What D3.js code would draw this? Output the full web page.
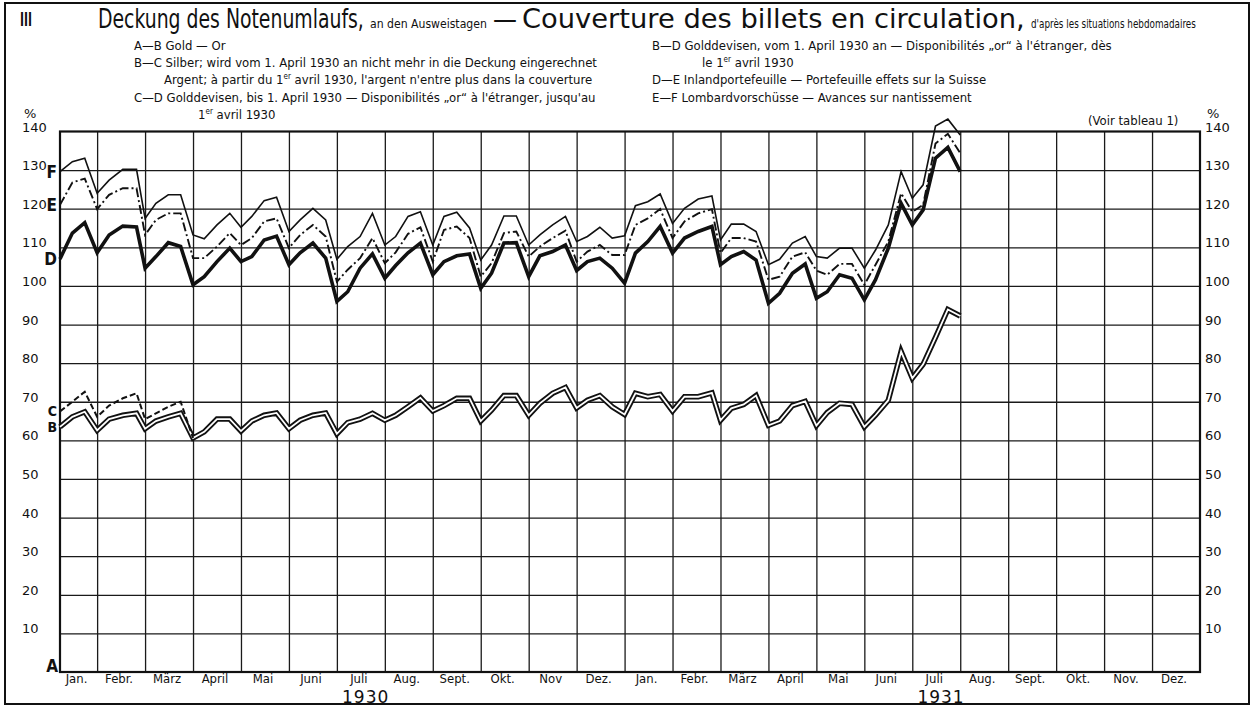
<!DOCTYPE html>
<html>
<head>
<meta charset="utf-8">
<script src="https://cdn.jsdelivr.net/npm/d3@7"></script>
<style>
body { margin: 0; background: #fff; }
svg { display: block; }
</style>
</head>
<body>
<div id="canvas"></div>
<script>
const W = 1253
const H = 706

// Ausweistage: 7., 15., 23. und Monatsende
const dates = [
	'1930-01-07', '1930-01-15', '1930-01-23', '1930-01-31',
	'1930-02-07', '1930-02-15', '1930-02-23', '1930-02-28',
	'1930-03-07', '1930-03-15', '1930-03-23', '1930-03-31',
	'1930-04-07', '1930-04-15', '1930-04-23', '1930-04-30',
	'1930-05-07', '1930-05-15', '1930-05-23', '1930-05-31',
	'1930-06-07', '1930-06-15', '1930-06-23', '1930-06-30',
	'1930-07-07', '1930-07-15', '1930-07-23', '1930-07-31',
	'1930-08-07', '1930-08-15', '1930-08-23', '1930-08-31',
	'1930-09-07', '1930-09-15', '1930-09-23', '1930-09-30',
	'1930-10-07', '1930-10-15', '1930-10-23', '1930-10-31',
	'1930-11-07', '1930-11-15', '1930-11-23', '1930-11-30',
	'1930-12-07', '1930-12-15', '1930-12-23', '1930-12-31',
	'1931-01-07', '1931-01-15', '1931-01-23', '1931-01-31',
	'1931-02-07', '1931-02-15', '1931-02-23', '1931-02-28',
	'1931-03-07', '1931-03-15', '1931-03-23', '1931-03-31',
	'1931-04-07', '1931-04-15', '1931-04-23', '1931-04-30',
	'1931-05-07', '1931-05-15', '1931-05-23', '1931-05-31',
	'1931-06-07', '1931-06-15', '1931-06-23', '1931-06-30',
	'1931-07-07', '1931-07-15', '1931-07-23', '1931-07-31'
]

// B: Gold (A-B)
const goldB = [
	63.5, 66.1, 67.4, 62.6,  65.5, 66.5, 67.0, 63.0,  65.0, 66.1, 67.0, 60.6,
	62.2, 65.5, 65.5, 62.4,  65.0, 66.5, 67.1, 63.0,  65.2, 66.5, 67.1, 61.7,
	64.6, 65.5, 67.0, 65.2,  66.5, 68.7, 71.0, 67.6,  69.0, 70.9, 70.9, 65.0,
	67.8, 71.6, 71.6, 66.5,  69.6, 72.2, 73.7, 68.4,  70.4, 71.6, 68.7, 66.7,
	72.2, 71.3, 71.9, 67.6,  71.3, 71.3, 72.3, 65.2,  68.3, 69.3, 71.6, 63.9,
	65.0, 69.0, 70.1, 63.8,  67.2, 69.6, 69.3, 63.5,  66.5, 70.4, 83.0, 76.1,
	79.7, 86.7, 93.9, 92.2
]
// C: + Silber, nur bis 31. März 1930
const silverC = [
	67.5, 70.0, 72.6, 66.1,  69.0, 70.9, 72.2, 65.5,  67.0, 68.7, 70.0, 60.6
]
// D: + Golddevisen
const devisenD = [
	107.0, 113.7, 116.4, 108.6,  113.2, 115.5, 115.3, 104.6,  107.6, 111.2, 110.2, 100.3,
	102.4, 106.3, 109.8, 106.3,  107.6, 111.9, 112.9, 105.5,  108.6, 111.1, 107.2, 96.0,
	98.5, 104.6, 108.3, 102.0,  105.3, 108.6, 111.1, 102.9,  106.3, 107.8, 108.3, 99.4,
	103.3, 111.1, 111.2, 102.4,  107.8, 108.9, 110.6, 104.0,  106.3, 107.2, 104.6, 100.7,
	108.5, 111.5, 115.4, 108.5,  112.4, 114.1, 115.4, 105.5,  107.6, 108.9, 106.7, 95.5,
	98.1, 103.3, 105.7, 96.8,  98.5, 102.9, 102.0, 96.4,  101.6, 109.8, 121.4, 115.8,
	119.7, 133.1, 135.9, 129.6
]
// E: + Inlandportefeuille
const portefeuilleE = [
	121.0, 126.8, 127.8, 119.9,  123.6, 125.3, 125.3, 113.2,  117.1, 118.8, 118.8, 107.2,
	107.2, 110.2, 113.7, 110.6,  112.4, 116.7, 117.5, 109.8,  113.2, 115.8, 112.8, 101.1,
	104.2, 107.2, 112.4, 105.9,  108.7, 113.5, 115.2, 106.3,  114.5, 115.4, 112.4, 102.4,
	105.9, 113.7, 114.1, 107.6,  110.2, 112.4, 114.3, 106.3,  108.9, 110.6, 108.0, 108.0,
	115.8, 117.5, 119.9, 112.4,  116.7, 118.8, 119.9, 108.5,  112.4, 112.4, 111.5, 101.6,
	102.4, 107.6, 108.7, 104.0,  102.9, 105.7, 105.7, 100.3,  105.5, 111.5, 124.0, 119.2,
	121.0, 136.9, 139.4, 134.4
]
// F: + Lombardvorschüsse
const lombardF = [
	129.6, 132.2, 133.1, 124.0,  127.4, 130.2, 130.2, 117.5,  121.4, 123.6, 123.6, 113.2,
	112.2, 115.8, 118.8, 115.2,  118.0, 122.1, 123.0, 114.1,  117.1, 120.1, 117.1, 106.9,
	110.2, 112.8, 118.8, 110.6,  112.8, 118.0, 119.2, 110.6,  118.0, 119.1, 115.0, 106.7,
	110.6, 118.1, 118.1, 110.6,  113.2, 115.8, 118.0, 111.5,  112.8, 115.2, 112.4, 113.0,
	120.8, 121.8, 123.8, 116.2,  120.1, 122.5, 123.3, 111.9,  116.0, 116.0, 114.1, 105.5,
	106.9, 111.1, 112.8, 107.6,  107.2, 109.8, 109.8, 104.6,  109.3, 115.8, 129.6, 122.7,
	126.2, 141.4, 143.2, 139.1
]

const months1930 = ['Jan.', 'Febr.', 'März', 'April', 'Mai', 'Juni', 'Juli', 'Aug.', 'Sept.', 'Okt.', 'Nov', 'Dez.']
const months1931 = ['Jan.', 'Febr.', 'März', 'April', 'Mai', 'Juni', 'Juli', 'Aug.', 'Sept.', 'Okt.', 'Nov.', 'Dez.']
const years = ['1930', '1931']
const yTicks = [10, 20, 30, 40, 50, 60, 70, 80, 90, 100, 110, 120, 130, 140]

const legendLeft = [
	['A—B', 'Gold — Or'],
	['B—C', 'Silber; wird vom 1. April 1930 an nicht mehr in die Deckung eingerechnet'],
	['', 'Argent; à partir du 1|er| avril 1930, l\'argent n\'entre plus dans la couverture'],
	['C—D', 'Golddevisen, bis 1. April 1930 — Disponibilités „or“ à l\'étranger, jusqu\'au'],
	['', '1|er| avril 1930']
]
const legendRight = [
	['B—D', 'Golddevisen, vom 1. April 1930 an — Disponibilités „or“ à l\'étranger, dès'],
	['', 'le 1|er| avril 1930'],
	['D—E', 'Inlandportefeuille — Portefeuille effets sur la Suisse'],
	['E—F', 'Lombardvorschüsse — Avances sur nantissement']
]

const narrow = "'Liberation Sans Narrow', 'Arial Narrow', 'DejaVu Sans Condensed', sans-serif"
const numFont = "'DejaVu Sans', sans-serif"

const plot = {left: 60, right: 1200, top: 131.5, bottom: 672}

const svg = d3.select('#canvas')
	.append('svg')
	.attr('width', W)
	.attr('height', H);

// outer frame
svg.append('rect')
	.attr('x', 5).attr('y', 3)
	.attr('width', 1244).attr('height', 701)
	.attr('fill', 'none')
	.attr('stroke', '#111')
	.attr('stroke-width', 2);

// month position: index since Jan 1930 + fraction of the month
function monthPos(s) {
	const [yy, mm, dd] = s.split('-').map(Number);
	const days = new Date(yy, mm, 0).getDate();
	return (yy - 1930) * 12 + (mm - 1) + dd / days;
}

const x = d3.scaleLinear()
	.domain([monthPos(dates[0]), 24])
	.range([plot.left, plot.right]);

const y = d3.scaleLinear()
	.domain([0, 140])
	.range([plot.bottom, plot.top]);

const plotW = plot.right - plot.left;
const plotH = plot.bottom - plot.top;

// grid
const gridX = svg.append('g')
	.attr('transform', `translate(0, ${plot.bottom})`)
	.call(d3.axisBottom(x).tickValues(d3.range(1, 24)).tickSize(-plotH).tickFormat(''));
const gridY = svg.append('g')
	.attr('transform', `translate(${plot.left}, 0)`)
	.call(d3.axisLeft(y).tickValues(yTicks.slice(0, -1)).tickSize(-plotW).tickFormat(''));
[gridX, gridY].forEach(g => {
	g.select('.domain').remove();
	g.selectAll('line').attr('stroke', '#1a1a1a').attr('stroke-width', 1.3);
});

svg.append('rect')
	.attr('x', plot.left).attr('y', plot.top)
	.attr('width', plotW).attr('height', plotH)
	.attr('fill', 'none')
	.attr('stroke', '#111')
	.attr('stroke-width', 2.2);

// y labels, left and right
const yLabL = svg.append('g')
	.attr('transform', `translate(${plot.left}, 0)`)
	.call(d3.axisLeft(y).tickValues(yTicks).tickSize(0));
const yLabR = svg.append('g')
	.attr('transform', `translate(${plot.right}, 0)`)
	.call(d3.axisRight(y).tickValues(yTicks).tickSize(0));
yLabL.selectAll('text').attr('x', 22 - plot.left);
yLabR.selectAll('text').attr('x', 5);
[yLabL, yLabR].forEach(g => {
	g.select('.domain').remove();
	g.attr('font-family', numFont).attr('font-size', 13);
	g.selectAll('text')
		.attr('text-anchor', 'start')
		.attr('dy', '-0.5')
		.attr('fill', '#111');
});
svg.append('text').attr('x', 24).attr('y', 118).text('%')
	.attr('font-family', numFont).attr('font-size', 13).attr('fill', '#111');
svg.append('text').attr('x', 1207).attr('y', 118).text('%')
	.attr('font-family', numFont).attr('font-size', 13).attr('fill', '#111');

// month labels
const monthLabels = months1930.concat(months1931).map((m, i) => ({m, i}));
svg.append('g').selectAll('text')
	.data(monthLabels)
	.enter()
	.append('text')
		.attr('x', d => (x(Math.max(d.i, monthPos(dates[0]))) + x(d.i + 1)) / 2 - 2)
		.attr('y', plot.bottom + 11)
		.attr('text-anchor', 'middle')
		.attr('font-family', narrow)
		.attr('font-size', 13)
		.attr('fill', '#111')
		.text(d => d.m);

svg.append('g').selectAll('text')
	.data(years)
	.enter()
	.append('text')
		.attr('x', (d, i) => x(i * 12 + 6.6))
		.attr('y', 703)
		.attr('text-anchor', 'middle')
		.attr('font-family', numFont)
		.attr('font-size', 17)
		.attr('letter-spacing', 1)
		.attr('fill', '#111')
		.text(d => d);

// lines
const line = d3.line()
	.x((d, i) => x(monthPos(dates[i])))
	.y(d => y(d));

const g = svg.append('g').attr('fill', 'none').attr('stroke-linejoin', 'miter');

g.append('path').attr('d', line(goldB)).attr('stroke', '#111').attr('stroke-width', 5.5);
g.append('path').attr('d', line(goldB)).attr('stroke', '#fff').attr('stroke-width', 1.8);
g.append('path').attr('d', line(silverC)).attr('stroke', '#111').attr('stroke-width', 2)
	.attr('stroke-dasharray', '6,3');
g.append('path').attr('d', line(devisenD)).attr('stroke', '#111').attr('stroke-width', 3.6);
g.append('path').attr('d', line(portefeuilleE)).attr('stroke', '#111').attr('stroke-width', 1.9)
	.attr('stroke-dasharray', '9,3,2,3');
g.append('path').attr('d', line(lombardF)).attr('stroke', '#111').attr('stroke-width', 1.6);

// line letters at the start
const letters = [
	['F', lombardF[0]], ['E', portefeuilleE[0]], ['D', devisenD[0]],
	['C', silverC[0]], ['B', goldB[0]]
];
svg.append('g').selectAll('text')
	.data(letters)
	.enter()
	.append('text')
		.attr('x', plot.left - 3)
		.attr('y', d => y(d[1]))
		.attr('dy', '0.36em')
		.attr('text-anchor', 'end')
		.attr('font-family', narrow)
		.attr('font-weight', 'bold')
		.attr('font-size', d => d[0] === 'C' || d[0] === 'B' ? 14 : 17)
		.attr('fill', '#111')
		.text(d => d[0]);
svg.append('text').attr('x', plot.left - 2).attr('y', plot.bottom)
	.attr('text-anchor', 'end').attr('font-family', narrow).attr('font-weight', 'bold')
	.attr('font-size', 17).attr('fill', '#111').text('A');

// title: each piece squeezed horizontally to its width in the original
const title = [
	['III', 20, 26, 20, 'bold', 12],
	['Deckung des Notenumlaufs,', 98, 28, 26, 'normal', 266],
	['an den Ausweistagen', 370, 28, 12, 'normal', 117],
	['—', 493, 28, 26, 'normal', 24],
	['Couverture des billets en circulation,', 522, 28, 26, 'normal', 503],
	['d\'après les situations hebdomadaires', 1031, 28, 12, 'normal', 165]
];
svg.append('g').selectAll('text')
	.data(title)
	.enter()
	.append('text')
		.attr('font-family', narrow)
		.attr('font-size', d => d[3])
		.attr('font-weight', d => d[4])
		.attr('fill', '#111')
		.text(d => d[0])
		.attr('transform', function(d) {
			const sx = d[5] / this.getComputedTextLength();
			return `translate(${d[1]}, ${d[2]}) scale(${sx}, 1)`;
		});

// legend
function legendText(sel, s) {
	s.split('|').forEach((part, i) => {
		const t = sel.append('tspan').text(part);
		if (i % 2 === 1) t.attr('font-size', 8).attr('dy', -5);
		else if (i > 0) t.attr('dy', 5);
	});
}
const legendRows = [50, 67, 84, 102, 119];
const contIndent = {left: [0, 0, 30, 0, 64], right: [0, 50, 0, 0]};
function drawLegend(items, x0, side) {
	items.forEach((d, i) => {
		const t = svg.append('text')
			.attr('x', x0 + contIndent[side][i])
			.attr('y', legendRows[i])
			.attr('font-family', narrow)
			.attr('font-size', 13)
			.attr('fill', '#111');
		if (d[0]) t.append('tspan').text(d[0] + ' ');
		legendText(t, d[1]);
	});
}
drawLegend(legendLeft, 134, 'left');
drawLegend(legendRight, 652, 'right');

svg.append('text').attr('x', 1088).attr('y', 125)
	.attr('font-family', narrow).attr('font-size', 13).attr('fill', '#111')
	.text('(Voir tableau 1)');
</script>
</body>
</html>
